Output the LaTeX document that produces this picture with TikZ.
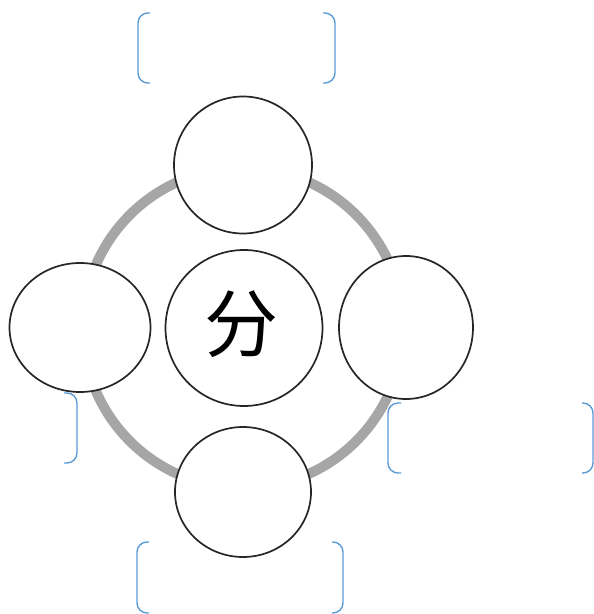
\documentclass[tikz,border=0pt]{standalone}
\usepackage{fontspec}
\newfontfamily\cjk{Noto Sans CJK SC}
\usetikzlibrary{shapes.geometric}
\definecolor{ringgray}{HTML}{A6A6A6}
\definecolor{bblue}{HTML}{5B9BD5}
\tikzset{
  ring/.style={draw=ringgray, line width=10pt},
  bub/.style={ellipse, draw=black!85, line width=1.7pt, fill=white, inner sep=0pt},
  bracket/.style={draw=bblue, line width=1.4pt, rounded corners=10pt}
}
\begin{document}
\begin{tikzpicture}[x=1pt,y=-1pt]
\useasboundingbox (0,0) rectangle (594,614);
\draw[ring] (243,328) circle (160pt);
\node[bub, minimum width=138, minimum height=137] (top) at (243,165) {};
\node[bub, minimum width=136, minimum height=130] (bottom) at (243,492) {};
\node[bub, minimum width=141, minimum height=129] (left) at (80,327.5) {};
\node[bub, minimum width=134, minimum height=143] (right) at (406,327.5) {};
\node[bub, minimum width=157, minimum height=156] (mid) at (244,328) {};
\node[inner sep=0pt] (midtext) at (241,324) {\cjk\fontsize{74}{74}\selectfont 分};
% brackets
\draw[bracket] (150,13) -- (138,13) -- (138,83) -- (150,83);
\draw[bracket] (323,13) -- (335,13) -- (335,83) -- (323,83);
\draw[bracket] (64,393) -- (77,393) -- (77,463) -- (64,463);
\draw[bracket] (401,403) -- (388,403) -- (388,473) -- (401,473);
\draw[bracket] (582,403) -- (593,403) -- (593,473) -- (582,473);
\draw[bracket] (149,542) -- (137,542) -- (137,613) -- (149,613);
\draw[bracket] (332,542) -- (343,542) -- (343,613) -- (332,613);
\end{tikzpicture}
\end{document}
